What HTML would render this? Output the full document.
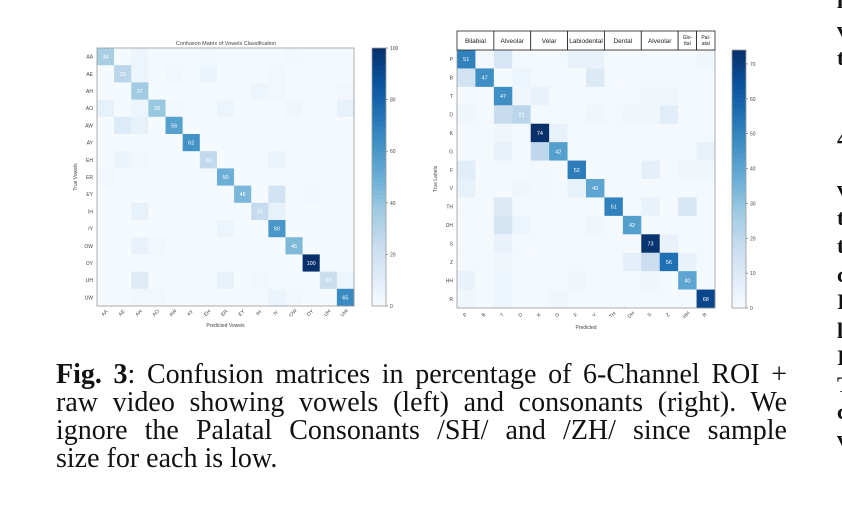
<!DOCTYPE html>
<html><head><meta charset="utf-8"><style>
html,body{margin:0;padding:0;background:#fff;}
body{width:842px;height:532px;position:relative;overflow:hidden;font-family:"Liberation Sans",sans-serif;}
#cap{position:absolute;left:56px;top:361px;width:731px;font-family:"Liberation Serif",serif;font-size:28px;line-height:28px;color:#111;}
#cap .l{text-align:justify;text-align-last:justify;white-space:nowrap;}
#cap .l.last{text-align-last:left;}
.rc{position:absolute;left:837px;font-family:"Liberation Serif",serif;font-weight:bold;font-size:22px;color:#111;}
</style></head><body>
<svg id="svg" width="842" height="360" style="position:absolute;left:0;top:0" font-family="Liberation Sans, sans-serif"></svg>
<div id="cap">
<div class="l"><b>Fig. 3</b>: Confusion matrices in percentage of 6-Channel ROI +</div>
<div class="l">raw video showing vowels (left) and consonants (right). We</div>
<div class="l">ignore the Palatal Consonants /SH/ and /ZH/ since sample</div>
<div class="l last">size for each is low.</div>
</div>
<div class="rc" style="top:-12px">l</div>
<div class="rc" style="top:17px">v</div>
<div class="rc" style="top:45px">t</div>
<div class="rc" style="top:126px">4</div>
<div class="rc" style="top:176px">v</div>
<div class="rc" style="top:205px">t</div>
<div class="rc" style="top:233px">t</div>
<div class="rc" style="top:262px">c</div>
<div class="rc" style="top:289px">I</div>
<div class="rc" style="top:318px">l</div>
<div class="rc" style="top:345px">I</div>
<div class="rc" style="top:372px">T</div>
<div class="rc" style="top:399px">c</div>
<div class="rc" style="top:426px">v</div>
<script>
const vowelLabels=["AA","AE","AH","AO","AW","AY","EH","ER","EY","IH","IY","OW","OY","UH","UW"];
const vowelMatrix=[
[34,1,5,1,1,1,3,1,1,1,1,2,1,1,1],
[1,29,5,1,3,1,6,1,1,1,3,1,1,1,1],
[1,1,37,1,1,1,1,1,1,5,3,1,1,1,3],
[8,1,5,39,2,1,1,5,1,1,1,4,1,1,8],
[1,13,8,1,56,1,1,1,1,1,1,1,1,1,1],
[1,1,1,1,1,62,1,1,1,1,1,1,1,1,1],
[1,6,3,1,1,1,26,1,1,1,6,1,1,1,1],
[3,1,1,1,1,1,1,50,1,1,1,1,1,1,1],
[1,1,1,1,1,1,1,1,46,1,19,1,2,1,1],
[1,1,8,1,1,1,1,1,1,25,8,1,1,1,1],
[1,1,1,1,1,1,1,5,1,1,60,1,1,1,1],
[1,1,7,3,1,1,1,1,1,1,1,45,1,1,1],
[1,1,1,1,1,1,1,1,1,1,1,1,100,1,1],
[1,1,12,1,1,1,1,8,1,3,1,1,1,23,5],
[1,1,3,3,1,1,1,1,1,1,6,3,1,1,65]];
const vowelTicks=[0,20,40,60,80,100];
const consLabels=["P","B","T","D","K","G","F","V","TH","DH","S","Z","HH","R"];
const consMatrix=[
[51,2,12,1,1,1,5,5,1,1,1,1,1,3],
[14,47,1,4,1,1,1,10,1,1,1,1,1,1],
[1,1,47,3,5,1,1,1,1,1,3,3,1,1],
[3,1,18,21,1,1,1,3,1,3,3,8,1,1],
[1,1,3,1,74,5,1,1,1,1,1,1,1,1],
[1,1,5,1,20,42,1,1,1,1,1,1,1,6],
[8,1,1,1,2,1,52,1,1,1,7,1,3,3],
[6,1,1,3,2,1,6,40,1,1,1,1,1,1],
[1,1,10,1,1,1,1,1,51,1,5,1,12,1],
[1,1,13,4,1,1,1,3,1,42,1,1,1,1],
[1,1,5,1,1,1,1,1,1,1,73,5,1,1],
[1,1,3,1,1,1,1,1,1,7,17,56,5,1],
[5,1,4,1,1,1,3,1,1,1,3,1,40,1],
[3,1,4,1,1,3,1,1,1,1,1,1,1,68]];
const consTicks=[0,10,20,30,40,50,60,70];
const consGroups=[["Bilabial",2],["Alveolar",2],["Velar",2],["Labiodental",2],["Dental",2],["Alveolar",2],["Glo-|ttal",1],["Pal-|atal",1]];

const stops=["#f7fbff","#deebf7","#c6dbef","#9ecae1","#6baed6","#4292c6","#2171b5","#08519c","#08306b"];
function hex(h){return [1,3,5].map(i=>parseInt(h.substr(i,2),16));}
function cmap(t){t=Math.max(0,Math.min(1,t));const p=t*8,i=Math.min(7,Math.floor(p)),f=p-i;const a=hex(stops[i]),b=hex(stops[i+1]);return "rgb("+a.map((v,k)=>Math.round(v+(b[k]-v)*f)).join(",")+")";}
const svg=document.getElementById('svg');const NS="http://www.w3.org/2000/svg";
function el(tag,attrs,parent,txt){const e=document.createElementNS(NS,tag);for(const k in attrs)e.setAttribute(k,attrs[k]);if(txt!==undefined)e.textContent=txt;(parent||svg).appendChild(e);return e;}

function drawMatrix(cfg){
  const g=el('g',{});
  
  
  const n=cfg.labels.length,cw=(cfg.x1-cfg.x0)/n,ch=(cfg.y1-cfg.y0)/n;
  const xs=i=>cfg.x0+i*cw, ys=i=>cfg.y0+i*ch;
  cfg.matrix.forEach((row,r)=>row.forEach((v,c)=>{
    const rc=el('rect',{x:xs(c),y:ys(r),width:cw+0.3,height:ch+0.3,fill:cmap(v/cfg.vmax)},g);
    
    
    if(r===c){const t=el('text',{x:xs(c)+cw/2,y:ys(r)+ch/2+2,'font-size':5.5,fill:'#fff','text-anchor':'middle'},g,v);
      
      }
  }));
  el('rect',{x:cfg.x0,y:cfg.y0,width:cfg.x1-cfg.x0,height:cfg.y1-cfg.y0,fill:'none',stroke:'#999','stroke-width':0.8},g);
  cfg.labels.forEach((l,i)=>{
    const ty=el('text',{x:cfg.x0-4,y:ys(i)+ch/2+2,'font-size':5,fill:'#444','text-anchor':'end'},g,l);
    
    
    const cx=xs(i)+cw/2,cy=cfg.y1+8;
    const tx=el('text',{x:cx,y:cy,'font-size':5,fill:'#444','text-anchor':'middle',transform:'rotate(-45 '+cx+' '+cy+')'},g,l);
    
    
  });
  const yt=el('text',{x:cfg.x0-20,y:(cfg.y0+cfg.y1)/2,'font-size':5,fill:'#444','text-anchor':'middle',transform:'rotate(-90 '+(cfg.x0-20)+' '+(cfg.y0+cfg.y1)/2+')'},g,cfg.ytitle);
  
  
  const xt=el('text',{x:(cfg.x0+cfg.x1)/2,y:cfg.y1+21,'font-size':5,fill:'#444','text-anchor':'middle'},g,cfg.xtitle);
  
  
  const cb=el('g',{},g);
  
  
  const steps=60,H=cfg.y1-cfg.y0;
  for(let i=0;i<steps;i++){el('rect',{x:cfg.cbx,y:cfg.y1-(i+1)*H/steps,width:cfg.cbw,height:H/steps+0.5,fill:cmap((i+0.5)/steps*cfg.cbmax/cfg.vmax)},cb);}
  el('rect',{x:cfg.cbx,y:cfg.y0,width:cfg.cbw,height:H,fill:'none',stroke:'#999','stroke-width':0.8},cb);
  cfg.ticks.forEach(t=>{const y=cfg.y1-t/cfg.cbmax*H;
    el('line',{x1:cfg.cbx+cfg.cbw,x2:cfg.cbx+cfg.cbw+2,y1:y,y2:y,stroke:'#666','stroke-width':0.6},cb);
    const tl=el('text',{x:cfg.cbx+cfg.cbw+4,y:y+2,'font-size':5,fill:'#444'},cb,t);
    
    });
  return {xs,cw};
}
const title=el('text',{x:226,y:45,'font-size':5.5,fill:'#444','text-anchor':'middle'},null,'Confusion Matrix of Vowels Classification');


drawMatrix({name:'vowel-matrix',labels:vowelLabels,matrix:vowelMatrix,vmax:100,x0:97,x1:354,y0:48,y1:306,cbx:372,cbw:14,cbmax:100,ticks:vowelTicks,ytitle:'True Vowels',xtitle:'Predicted Vowels'});
const cb=drawMatrix({name:'consonant-matrix',labels:consLabels,matrix:consMatrix,vmax:74,x0:457,x1:715,y0:50,y1:308,cbx:732,cbw:14,cbmax:74,ticks:consTicks,ytitle:'True Labels',xtitle:'Predicted'});
let ci=0;
consGroups.forEach(([name,span])=>{
  const x=cb.xs(ci),w=span*cb.cw;
  const r=el('rect',{x:x,y:31,width:w,height:19,fill:'#fff',stroke:'#222','stroke-width':0.8});
  
  
  const parts=name.split('|');
  parts.forEach((p,k)=>{const t=el('text',{x:x+w/2,y:parts.length>1?39+k*6:43,'font-size':parts.length>1?5:6.5,fill:'#222','text-anchor':'middle'},null,p);
    
    });
  ci+=span;
});
</script>
</body></html>
